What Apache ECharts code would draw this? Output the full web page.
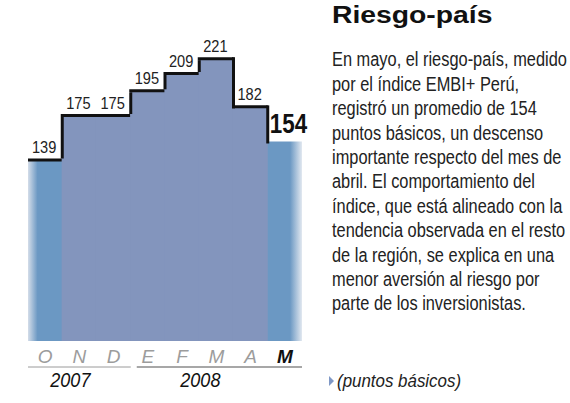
<!DOCTYPE html>
<html>
<head>
<meta charset="utf-8">
<script src="https://cdn.jsdelivr.net/npm/echarts@6/dist/echarts.min.js"></script>
<style>
html,body{margin:0;padding:0;background:#fff;}
#c{width:570px;height:403px;}
</style>
</head>
<body>
<div id="c"></div>
<script>
// ---- data ----
const months = ['O', 'N', 'D', 'E', 'F', 'M', 'A', 'M'];
const values = [139, 175, 175, 195, 209, 221, 182, 154];
const years = ['2007', '2008'];
const yearSpans = [[0, 2], [3, 7]];   // category index ranges of each year
const title = 'Riesgo-país';
const bodyLines = [
  'En mayo, el riesgo-país, medido',
  'por el índice EMBI+ Perú,',
  'registró un promedio de 154',
  'puntos básicos, un descenso',
  'importante respecto del mes de',
  'abril. El comportamiento del',
  'índice, que está alineado con la',
  'tendencia observada en el resto',
  'de la región, se explica en una',
  'menor aversión al riesgo por',
  'parte de los inversionistas.'
];
const unitNote = '(puntos básicos)';

// ---- styles ----
const SANS = '"Liberation Sans", Arial, Helvetica, sans-serif';
const Y_MIN = -7.5, Y_MAX = 268.5;
const last = values.length - 1;
const NUM_SX = 0.86;   // horizontal condensing of the narrow-looking numbers

const chart = echarts.init(document.getElementById('c'), null, {renderer: 'svg'});

function renderItem(params, api) {
  const i = api.value(0);
  const v = api.value(1);
  const top = api.coord([i, v]);
  const base = api.coord([i, Y_MIN]);
  const w = api.size([1, 0])[0];
  const x0 = top[0] - w / 2, x1 = top[0] + w / 2;
  const y = top[1];
  const children = [];
  let fill = '#8395bd';
  if (i === 0) {
    fill = new echarts.graphic.LinearGradient(0, 0, 1, 0, [
      {offset: 0, color: '#d4dde9'}, {offset: 0.28, color: '#6b98c3'}, {offset: 1, color: '#6b98c3'}]);
  } else if (i === last) {
    fill = new echarts.graphic.LinearGradient(0, 0, 1, 0, [
      {offset: 0, color: '#6b98c3'}, {offset: 0.65, color: '#6b98c3'}, {offset: 1, color: '#e2e8f0'}]);
  }
  const pad = (i === 0 || i === last) ? 0 : 0.6;
  children.push({type: 'rect', shape: {x: x0 - pad, y: y, width: w + 2 * pad, height: base[1] - y}, style: {fill: fill}});
  if (i > 0) {
    const py = api.coord([i - 1, values[i - 1]])[1];
    children.push({type: 'line', shape: {x1: x0, y1: py - 1.5, x2: x0, y2: y + (i === last ? 2 : 1.5)},
      style: {stroke: '#111', lineWidth: 3}});
  }
  if (i === last) {
    children.push({type: 'line', shape: {x1: x0 - 1.5, y1: y, x2: x1 + 2, y2: y},
      style: {stroke: new echarts.graphic.LinearGradient(0, 0, 1, 0, [
        {offset: 0, color: '#1a1a1a'}, {offset: 0.7, color: '#1a1a1a'}, {offset: 1, color: '#e0e0e0'}]), lineWidth: 4}});
    children.push({type: 'text', x: x0 + 2, y: y - 4, scaleX: 0.8,
      style: {text: String(v), x: 0, y: 0, align: 'left', verticalAlign: 'bottom',
        fontFamily: SANS, fontWeight: 'bold', fontSize: 28, fill: '#111'}});
  } else {
    children.push({type: 'line', shape: {x1: x0 - (i === 0 ? 0 : 1.5), y1: y, x2: x1, y2: y},
      style: {stroke: '#111', lineWidth: 3}});
    children.push({type: 'text', x: top[0] - 1, y: y - 4, scaleX: NUM_SX,
      style: {text: String(v), x: 0, y: 0, align: 'center', verticalAlign: 'bottom',
        fontFamily: SANS, fontSize: 17, fill: '#222'}});
  }
  return {type: 'group', children: children};
}

const option = {
  animation: false,
  grid: {left: 28, right: 268, top: 0, bottom: 62, containLabel: false},
  xAxis: {
    type: 'category', data: months, boundaryGap: true,
    axisLine: {show: false}, axisTick: {show: false},
    axisLabel: {
      margin: 6, interval: 0,
      formatter: (val, idx) => idx === last ? '{b|' + val + '}' : '{g|' + val + '}',
      rich: {
        g: {fontFamily: SANS, fontStyle: 'italic', fontSize: 19, color: '#9c9c9c'},
        b: {fontFamily: SANS, fontStyle: 'italic', fontWeight: 'bold', fontSize: 19, color: '#111'}
      }
    }
  },
  yAxis: {type: 'value', min: Y_MIN, max: Y_MAX, show: false, splitLine: {show: false}},
  series: [{
    type: 'custom', renderItem: renderItem,
    data: values.map((v, i) => [i, v]), clip: false
  }]
};
chart.setOption(option);

// measure text to condense the body copy like the original narrow face
const cv = document.createElement('canvas').getContext('2d');
const BODY_FS = 21;
cv.font = BODY_FS + 'px ' + SANS;
const refW = cv.measureText(bodyLines[2]).width;
const maxW = Math.max.apply(null, bodyLines.map(l => cv.measureText(l).width));
const bodySX = Math.min(224 / refW, 235 / maxW);

// year brackets & side text
const graphics = [];
const step = chart.convertToPixel({xAxisIndex: 0}, 1) - chart.convertToPixel({xAxisIndex: 0}, 0);
const yearShift = [-9, -19];
yearSpans.forEach((sp, k) => {
  const xa = chart.convertToPixel({xAxisIndex: 0}, sp[0]) - step / 2 + (k === 0 ? 0 : 6);
  const xb = chart.convertToPixel({xAxisIndex: 0}, sp[1]) + step / 2;
  graphics.push({type: 'line', shape: {x1: xa, y1: 367, x2: xb, y2: 367},
    style: {stroke: k === 0 ? '#9a9a9a' : '#8a8a8a', lineWidth: k === 0 ? 1 : 1.5}});
  graphics.push({type: 'text', x: (xa + xb) / 2 + yearShift[k], y: 379, scaleX: 0.86,
    style: {text: years[k], x: 0, y: 0, align: 'center', verticalAlign: 'middle', fontFamily: SANS,
      fontStyle: 'italic', fontSize: 21, fill: '#111'}});
});
graphics.push({type: 'text', x: 332, y: 3, scaleX: 1.18, style: {text: title, x: 0, y: 0, fontFamily: SANS, fontWeight: 'bold',
  fontSize: 24, fill: '#111', align: 'left', verticalAlign: 'top'}});
graphics.push({type: 'text', x: 332, y: 47, scaleX: bodySX, style: {text: bodyLines.join('\n'), x: 0, y: 0, fontFamily: SANS,
  fontSize: BODY_FS, lineHeight: 24.4, fill: '#222', align: 'left', verticalAlign: 'top'}});
graphics.push({type: 'polygon', shape: {points: [[329, 376], [334, 381], [329, 386]]}, style: {fill: '#7f98c6'}});
graphics.push({type: 'text', x: 337, y: 381, scaleX: 0.94, style: {text: unitNote, x: 0, y: 0, fontFamily: SANS, fontStyle: 'italic',
  fontSize: 18, fill: '#222', align: 'left', verticalAlign: 'middle'}});
chart.setOption({graphic: graphics});
</script>
</body>
</html>
